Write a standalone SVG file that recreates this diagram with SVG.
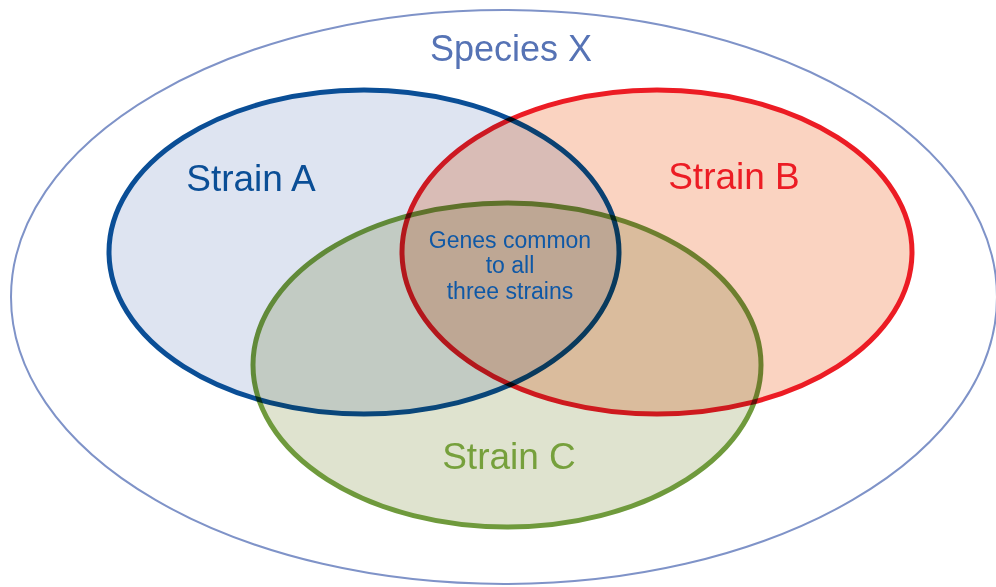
<svg xmlns="http://www.w3.org/2000/svg" width="996" height="587" viewBox="0 0 996 587">
<style>
.lbl{font-family:"Liberation Sans","Noto Sans",sans-serif;text-anchor:middle}
.big{font-size:37px}
.small{font-size:23px;fill:#0f58a6}
.set{mix-blend-mode:multiply}
</style>
<rect width="996" height="587" fill="#ffffff"/>
<g id="species-x">
<ellipse cx="504" cy="297" rx="493" ry="287" fill="none" stroke="#7f93c8" stroke-width="2"/>
<text class="lbl" x="511" y="61" font-size="36" fill="#5673b5">Species X</text>
</g>
<g id="strain-a" class="set">
<ellipse cx="364" cy="252" rx="255" ry="162" fill="#dee4f1" stroke="#0a4e96" stroke-width="5"/>
</g>
<g id="strain-b" class="set">
<ellipse cx="657" cy="252" rx="255" ry="162" fill="#fad3c1" stroke="#ec1c24" stroke-width="5"/>
</g>
<g id="strain-c" class="set">
<ellipse cx="507" cy="365" rx="254" ry="162" fill="#dfe3cf" stroke="#6f9a3c" stroke-width="5"/>
</g>
<g id="labels">
<text class="lbl big" x="251" y="191" fill="#0a4e96">Strain A</text>
<text class="lbl big" x="734" y="189" fill="#ec1c24">Strain B</text>
<text class="lbl big" x="509" y="469" fill="#76a03c">Strain C</text>
<text class="lbl small" x="510" y="248">Genes common</text>
<text class="lbl small" x="510" y="273">to all</text>
<text class="lbl small" x="510" y="299">three strains</text>
</g>
</svg>
